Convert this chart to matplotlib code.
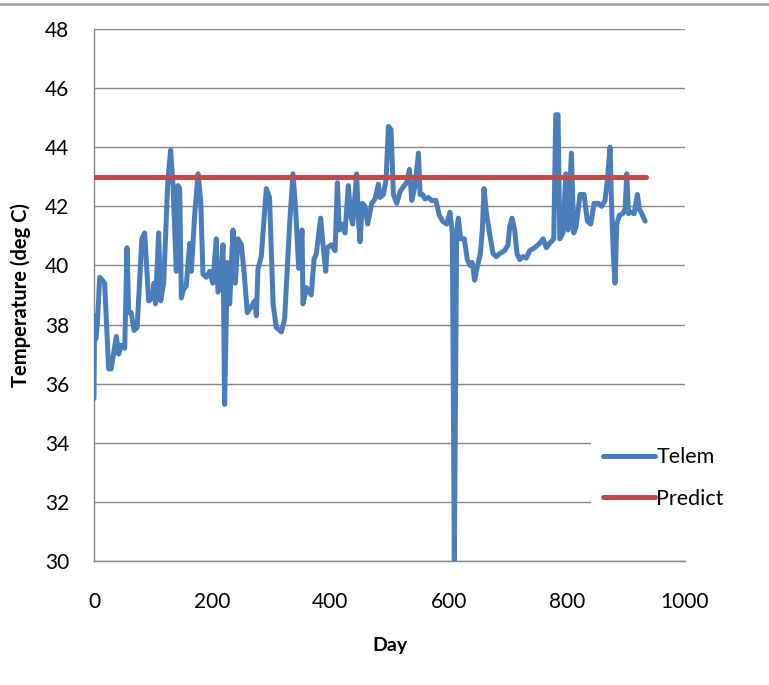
import matplotlib
matplotlib.use("Agg")
import matplotlib.pyplot as plt
from matplotlib.lines import Line2D

# ── Data ──────────────────────────────────────────────────────────────────────

day = [0, 1, 3, 5.6, 9.6, 18, 24.8, 29, 37.8, 41.7, 46, 52, 55.8, 58.7, 63,
       67.7, 73, 81, 85.7, 92.5, 98.7, 101.5, 104, 109.4, 112.8, 117.9, 125,
       129.7, 133.7, 139.3, 142, 145, 147.8, 151.7, 156, 162, 164.7, 170.3,
       176, 180.5, 184.4, 190, 195.7, 201, 206.9, 209.8, 214, 218.3, 221,
       225.6, 229.6, 235.2, 239, 243.7, 249.3, 253.8, 259.4, 266, 271.8,
       274.7, 277.5, 283, 291.6, 297, 303, 308.5, 317, 322.6, 331, 336.7,
       341.2, 346.3, 352, 353.6, 359.3, 367.7, 372.2, 376.2, 383.5, 387.5,
       392, 394.8, 401.6, 408, 411.8, 415.1, 419, 424.7, 430.3, 434.3, 437.7,
       444.4, 447.3, 450.1, 454.1, 458.6, 463.1, 469.9, 475.5, 481.2, 484,
       489.6, 494.2, 498.1, 502.6, 506.6, 512.3, 517.9, 524.7, 529.2, 533.7,
       537.7, 543.3, 549, 551.8, 556, 560, 565.6, 571.3, 578.6, 584.2, 589.9,
       596.7, 602.3, 606.3, 609.7, 613.6, 616.5, 620.4, 626.6, 631.7, 636.2,
       640, 644.1, 648, 653.7, 657.1, 659.9, 663.8, 668.4, 675.1, 680.8,
       686.4, 694.9, 700.5, 703.3, 707.3, 711.8, 715.7, 720.3, 725.9, 731.6,
       737.2, 745.7, 754.2, 759.8, 765.4, 771.1, 777.9, 781.3, 785.2, 788.1,
       793.7, 798.2, 802.2, 807.8, 811.7, 815.6, 822.4, 829.2, 834.8, 840.5,
       846.1, 853.4, 859.1, 864.7, 868.7, 873.2, 876, 878.9, 881.7, 884.5,
       889, 894.7, 898.6, 901.5, 904.3, 908.2, 913.9, 919.5, 922.9, 926.9,
       932.5]

telem = [35.5, 38.3, 37.5, 38.0, 39.6, 39.4, 36.5, 36.5, 37.6, 37.0, 37.3,
         37.2, 40.6, 38.4, 38.4, 37.8, 37.9, 40.9, 41.1, 38.8, 38.9, 39.4,
         38.7, 41.1, 38.8, 39.4, 42.9, 43.9, 42.7, 39.8, 42.7, 42.6, 38.9,
         39.2, 39.3, 40.75, 39.8, 41.7, 43.1, 42.2, 39.7, 39.6, 39.8, 39.4,
         40.9, 39.1, 39.3, 40.7, 35.3, 40.1, 38.7, 41.2, 39.4, 40.9, 40.7,
         39.8, 38.4, 38.6, 38.8, 38.3, 39.9, 40.3, 42.6, 42.3, 38.7, 37.9,
         37.75, 38.2, 41.4, 43.1, 41.9, 39.9, 41.2, 38.7, 39.25, 39.0, 40.2,
         40.4, 41.6, 40.7, 39.8, 40.6, 40.7, 40.5, 42.8, 41.2, 41.4, 41.1,
         42.7, 41.7, 41.4, 43.1, 41.6, 40.8, 42.1, 42.0, 41.4, 42.1, 42.25,
         42.75, 42.3, 42.4, 42.9, 44.7, 44.6, 42.4, 42.1, 42.5, 42.7, 42.8,
         43.25, 42.2, 42.7, 43.8, 42.4, 42.4, 42.25, 42.3, 42.2, 42.2, 41.7,
         41.5, 41.4, 41.8, 41.1, 30.0, 41.1, 41.6, 40.9, 40.9, 40.2, 40.0,
         40.1, 39.5, 39.9, 40.4, 41.2, 42.6, 41.8, 41.2, 40.4, 40.3, 40.4,
         40.5, 40.7, 41.3, 41.6, 41.2, 40.4, 40.2, 40.3, 40.25, 40.5, 40.6,
         40.75, 40.9, 40.6, 40.75, 40.9, 45.1, 45.1, 40.9, 41.1, 43.1, 41.2,
         43.8, 41.1, 41.3, 42.4, 42.4, 41.5, 41.4, 42.1, 42.1, 42.0, 42.2,
         42.9, 44.0, 41.9, 40.3, 39.4, 41.4, 41.7, 41.75, 41.9, 43.1, 41.75,
         41.8, 41.75, 42.4, 41.9, 41.75, 41.5]

predict_day = [0, 934]
predict = [43, 43]

# ── Plot ──────────────────────────────────────────────────────────────────────

plt.rcParams['font.family'] = ['Lato', 'DejaVu Sans']

fig = plt.figure(figsize=(7.69, 6.85), dpi=100)
ax = fig.add_axes([94 / 769, 1 - 561 / 685, (685 - 94) / 769, (561 - 29) / 685])

ax.plot(day, telem, color='#4A7EBB', lw=3.6, solid_joinstyle='round',
        solid_capstyle='round', label='Telem', zorder=3)
ax.plot(predict_day, predict, color='#BE4B48', lw=3.6, solid_capstyle='round',
        label='Predict', zorder=3)

ax.set_xlim(0, 1000)
ax.set_ylim(30, 48)
ax.set_xticks(range(0, 1001, 200))
ax.set_yticks(range(30, 49, 2))
ax.tick_params(length=0, labelsize=15)
ax.tick_params(axis='x', pad=22)
ax.tick_params(axis='y', pad=18)
ax.grid(axis='y', color='#868686', lw=1.0)
ax.set_axisbelow(True)

for side in ('top', 'right'):
    ax.spines[side].set_visible(False)
for side in ('left', 'bottom'):
    ax.spines[side].set_color('#868686')
    ax.spines[side].set_linewidth(1.0)

ax.set_xlabel('Day', fontsize=14, fontweight='bold', labelpad=18)
ax.set_ylabel('Temperature (deg C)', fontsize=14.5, fontweight='bold', labelpad=10)

leg = ax.legend(loc='upper left', bbox_to_anchor=(0.822, 0.258), frameon=True,
                fontsize=15.5, handlelength=2.4, handletextpad=0.05,
                labelspacing=1.0, borderpad=0.6)
leg.get_frame().set_facecolor('white')
leg.get_frame().set_edgecolor('none')
leg.get_frame().set_alpha(1.0)
leg.set_clip_on(False)
for line in leg.get_lines():
    line.set_linewidth(3.6)

# Frame line along the top of the image
fig.add_artist(Line2D([0, 1], [1 - 3.5 / 685] * 2, color='#A0A0A0', lw=1.8,
                      transform=fig.transFigure))

fig.savefig('out.png', dpi=100)
